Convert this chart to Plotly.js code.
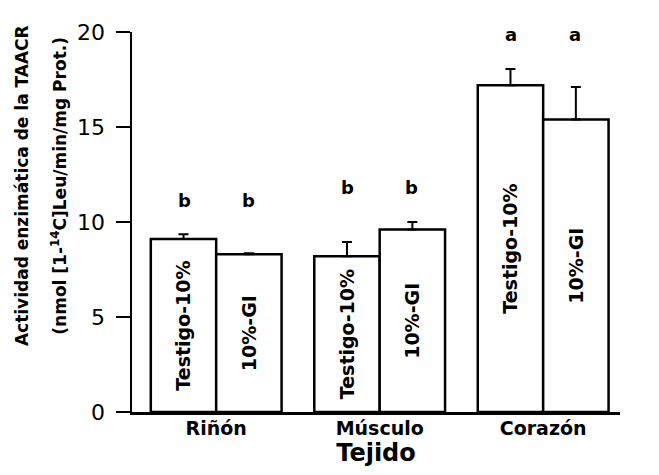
<!DOCTYPE html>
<html>
<head>
<meta charset="utf-8">
<script src="https://cdn.plot.ly/plotly-3.0.1.min.js"></script>
<style>
html,body{margin:0;padding:0;background:#fff;}
#chart{width:659px;height:475px;}
</style>
</head>
<body>
<div id="chart"></div>
<script>
// ---- data ----
const tissues = ['Riñón', 'Músculo', 'Corazón'];
const seriesNames = ['Testigo-10%', '10%-GI'];
const testigoValues = [9.1, 8.2, 17.2];
const testigoErrors = [0.25, 0.75, 0.85];
const giValues = [8.3, 9.6, 15.4];
const giErrors = [0.05, 0.4, 1.7];
const testigoLetters = ['b', 'b', 'a'];
const giLetters = ['b', 'b', 'a'];
const yTickVals = [0, 5, 10, 15, 20];

const barLine = {color: '#000', width: 2.5};
const barFont = {family: 'DejaVu Sans', size: 19, color: '#000', weight: 'bold'};

function barTrace(name, values, errors) {
  return {
    type: 'bar', name: name, x: tissues, y: values,
    marker: {color: '#fff', line: barLine},
    error_y: {type: 'data', symmetric: false, array: errors,
              arrayminus: errors.map(() => 0), color: '#000', thickness: 2, width: 5},
    text: values.map(() => name), textposition: 'inside', insidetextanchor: 'middle',
    textangle: -90, insidetextfont: barFont, constraintext: 'none',
    hoverinfo: 'skip'
  };
}

const traces = [
  barTrace(seriesNames[0], testigoValues, testigoErrors),
  barTrace(seriesNames[1], giValues, giErrors)
];

const annotations = [];
tissues.forEach((t, i) => {
  const top = Math.max(testigoValues[i] + testigoErrors[i], giValues[i] + giErrors[i]);
  [[testigoLetters[i], -32], [giLetters[i], 32]].forEach(([lab, sh]) => {
    annotations.push({x: t, y: top + 1.8, xref: 'x', yref: 'y', text: lab, showarrow: false,
      xshift: sh, font: {family: 'DejaVu Sans', size: 18, color: '#000', weight: 'bold'}});
  });
});
// y-axis title (two lines)
annotations.push({xref: 'paper', yref: 'paper', x: -0.225, y: 0.595, textangle: -90,
  text: 'Actividad enzimática de la TAACR', showarrow: false,
  xanchor: 'center', yanchor: 'middle',
  font: {family: 'DejaVu Sans', size: 17, color: '#000', weight: 'bold'}});
annotations.push({xref: 'paper', yref: 'paper', x: -0.15, y: 0.595, textangle: -90,
  text: '(nmol [1-<sup>14</sup>C]Leu/min/mg Prot.)', showarrow: false,
  xanchor: 'center', yanchor: 'middle',
  font: {family: 'DejaVu Sans', size: 17, color: '#000', weight: 'bold'}});

const layout = {
  width: 659, height: 475,
  margin: {l: 132, r: 39, t: 32, b: 63},
  paper_bgcolor: '#fff', plot_bgcolor: '#fff',
  showlegend: false,
  barmode: 'group', bargap: 0.2, bargroupgap: 0,
  xaxis: {
    type: 'category', range: [-0.515, 2.47],
    showline: true, linecolor: '#000', linewidth: 2.5,
    ticks: '', showgrid: false, zeroline: false,
    ticklabelstandoff: -2,
    tickfont: {family: 'DejaVu Sans', size: 19, color: '#000', weight: 'bold'},
    title: {text: 'Tejido', standoff: 0,
            font: {family: 'DejaVu Sans', size: 24, color: '#000', weight: 'bold'}}
  },
  yaxis: {
    range: [0, 20], tickvals: yTickVals, ticktext: yTickVals.map(String),
    showline: true, linecolor: '#000', linewidth: 2.5,
    ticks: 'outside', ticklen: 14, tickwidth: 2, tickcolor: '#000',
    ticklabelstandoff: 6,
    showgrid: false, zeroline: false,
    tickfont: {family: 'DejaVu Sans', size: 22, color: '#000'}
  },
  annotations: annotations
};

Plotly.newPlot('chart', traces, layout, {displayModeBar: false, staticPlot: true});
</script>
</body>
</html>
